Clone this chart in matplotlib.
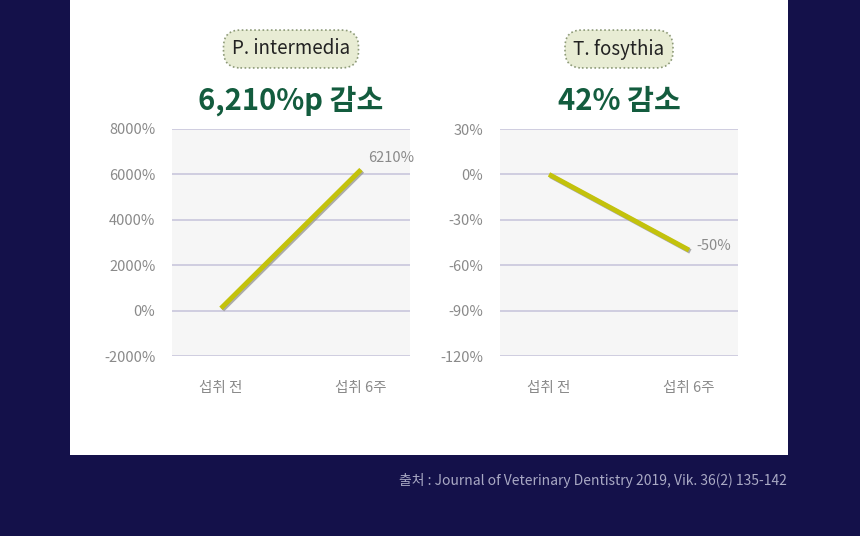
import matplotlib.pyplot as plt
from matplotlib.patches import Rectangle
import matplotlib.patheffects as pe

# --------------------------------------------------------
# DATA
# --------------------------------------------------------
categories = ["섭취 전", "섭취 6주"]
p_inter_values = [100, 6210]
t_fosy_values = [0, -50]
p_inter_ticks = [-2000, 0, 2000, 4000, 6000, 8000]
t_fosy_ticks = [-120, -90, -60, -30, 0, 30]
p_inter_label = "6210%"
t_fosy_label = "-50%"

W, H = 860, 536
plt.rcParams["font.family"] = ["Noto Sans CJK JP", "Noto Sans CJK KR", "Noto Sans CJK SC", "DejaVu Sans"]

fig = plt.figure(figsize=(W / 100, H / 100), dpi=100)
fig.patch.set_facecolor("#14114a")

# white card (behind the axes)
fig.patches.append(Rectangle((70 / W, 1 - 455 / H), 718 / W, 455 / H, zorder=-5,
                             transform=fig.transFigure, facecolor="white", edgecolor="none"))

LINE = "#c3c20c"
GRID = "#c9c6dc"
TXT = "#8a8a8a"


def panel(x0, values, ticks, label, pill, headline):
    ax = fig.add_axes([x0 / W, 1 - 356 / H, 238 / W, 227 / H])
    ax.set_facecolor("#f6f6f6")
    xs = [0, 1]
    ax.plot(xs, values, color=LINE, lw=3.5, solid_capstyle="butt",
            path_effects=[pe.SimpleLineShadow(offset=(1, -1), shadow_color="#999999", alpha=0.8), pe.Normal()])
    ax.set_xlim(-0.35, 1.35)
    ax.set_ylim(ticks[0], ticks[-1])
    ax.set_yticks(ticks)
    ax.set_yticklabels([f"{t}%" for t in ticks], color=TXT, fontsize=10.5)
    ax.set_xticks(xs)
    ax.set_xticklabels(categories, color=TXT, fontsize=10.5)
    ax.tick_params(length=0, pad=12)
    ax.tick_params(axis="x", pad=18)
    ax.grid(axis="y", color=GRID, lw=1.2)
    for s in ax.spines.values():
        s.set_visible(False)
    ax.annotate(label, (1, values[1]), xytext=(5, 3), textcoords="offset points",
                color=TXT, fontsize=10.5, va="bottom" if values[1] > 0 else "center")
    cx = (x0 + 119) / W
    fig.text(cx, 1 - 49 / H, pill, ha="center", va="center", fontsize=13.5, color="#222222",
             bbox=dict(boxstyle="round,pad=0.45,rounding_size=0.9", facecolor="#e8ecd4",
                       edgecolor="#8d9a78", linestyle=(0, (1, 1.5)), lw=1.2))
    fig.text(cx, 1 - 101 / H, headline, ha="center", va="center", fontsize=21,
             fontweight="bold", color="#135c3e")


panel(172, p_inter_values, p_inter_ticks, p_inter_label, "P. intermedia", "6,210%p 감소")
panel(500, t_fosy_values, t_fosy_ticks, t_fosy_label, "T. fosythia", "42% 감소")

fig.text(787 / W, 1 - 480 / H, "출처 : Journal of Veterinary Dentistry 2019, Vik. 36(2) 135-142",
         ha="right", va="center", fontsize=10, color="#a9a9c4")

fig.savefig("out.png", dpi=100, facecolor=fig.get_facecolor())
